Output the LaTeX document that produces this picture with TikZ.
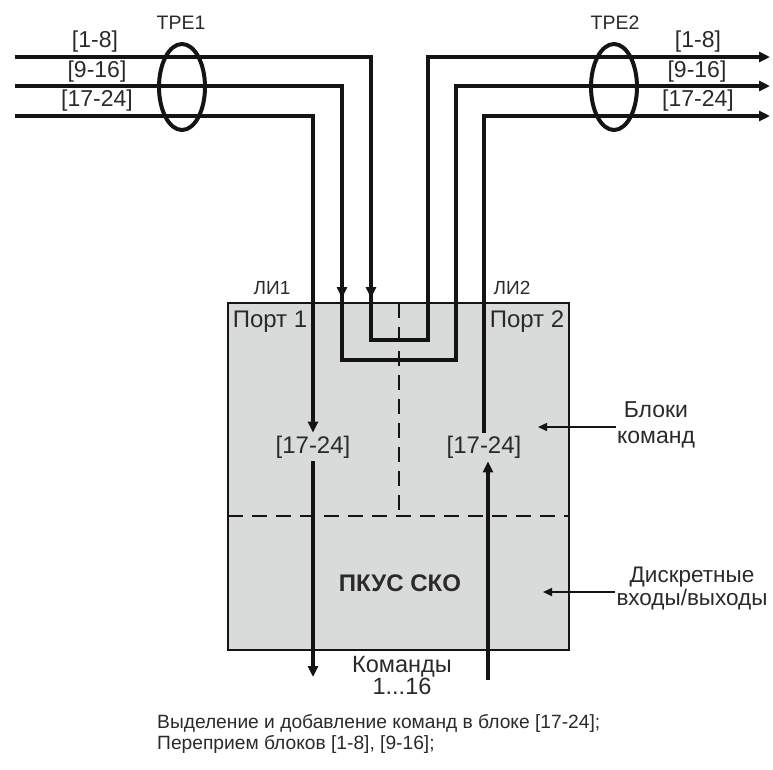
\documentclass[tikz,border=0pt]{standalone}
\usepackage{fontspec}
\setmainfont{Liberation Sans}
\usetikzlibrary{arrows.meta,shapes.geometric}
\definecolor{boxgray}{HTML}{D9DBDB}
\definecolor{ink}{HTML}{141414}
\definecolor{txt}{HTML}{2A2A2A}
\begin{document}
\begin{tikzpicture}[x=1pt,y=-1pt,
  heavy/.style={line width=4.5pt, draw=ink},
  tipend/.style={-{Triangle[length=11pt,width=10pt]}},
  lbl/.style={font=\fontsize{23}{25}\selectfont, text=txt, inner sep=1pt},
  smalllbl/.style={font=\fontsize{19.5}{21}\selectfont, text=txt, inner sep=1pt},
  thinarrow/.style={line width=1.5pt, draw=ink, -{Triangle[length=9pt,width=8pt]}},
  dashline/.style={line width=2.8pt, draw=ink, dash pattern=on 15pt off 9pt},
  trans/.style={ellipse, draw=ink, line width=4pt, minimum width=46pt, minimum height=86pt, inner sep=0pt},
  blocklbl/.style={font=\fontsize{24}{26}\selectfont, text=txt, inner xsep=1pt, inner ysep=3pt}
]
\useasboundingbox (0,0) rectangle (773,769);

% main box
\node[draw=ink, line width=2.5pt, fill=boxgray, minimum width=341pt, minimum height=347pt, inner sep=0pt] (box) at (398.5,476.5) {};

% dashed dividers
\coordinate (dl) at (228,516);
\coordinate (dr) at (569,516);
\coordinate (dt) at (399,303);
\coordinate (db) at (399,516);
\draw[dashline] (dl) -- (dr);
\draw[dashline] (dt) -- (db);

% texts inside box
\node[lbl, font=\fontsize{24}{26}\selectfont] (port1) at (270,322) {Порт 1};
\node[lbl, font=\fontsize{24}{26}\selectfont] (port2) at (527,322) {Порт 2};
\node[smalllbl, font=\fontsize{19}{21}\selectfont] (li1) at (272,288) {ЛИ1};
\node[smalllbl, font=\fontsize{19}{21}\selectfont] (li2) at (512,288) {ЛИ2};
\node[blocklbl] (L17) at (313,447) {[17-24]};
\node[blocklbl] (R17) at (484,447) {[17-24]};
\node[lbl, font=\fontsize{24}{26}\selectfont\bfseries] (pkus) at (400,583) {ПКУС СКО};

% coordinates of the trunk lines
\coordinate (a1) at (15,57);
\coordinate (a1c) at (371,57);
\coordinate (a1m) at (371,298);
\coordinate (a1b) at (371,340);
\coordinate (b1b) at (428,340);
\coordinate (b1c) at (428,57);
\coordinate (b1e) at (770,57);

\coordinate (a2) at (15,86);
\coordinate (a2c) at (342,86);
\coordinate (a2m) at (342,298);
\coordinate (a2b) at (342,360);
\coordinate (b2b) at (456,360);
\coordinate (b2c) at (456,86);
\coordinate (b2e) at (770,86);

\coordinate (a3) at (15,116);
\coordinate (b3c) at (484,116);
\coordinate (b3e) at (770,116);

\coordinate (outL) at (313,677);
\coordinate (inR) at (488,680);

% [1-8]
\draw[heavy, tipend] (a1) -- (a1c) -- (a1b) -- (b1b) -- (b1c) -- (b1e);
\draw[heavy, tipend] (a1c) -- (a1m);
% [9-16]
\draw[heavy, tipend] (a2) -- (a2c) -- (a2b) -- (b2b) -- (b2c) -- (b2e);
\draw[heavy, tipend] (a2c) -- (a2m);
% [17-24]
\draw[heavy, tipend] (a3) -| (L17.north);
\draw[heavy, tipend] (R17.north) |- (b3e);
\draw[heavy, tipend] (L17.south) -- (outL);
\draw[heavy, tipend] (inR) -- (inR |- R17.south);

% transformers
\node[trans] (tpe1) at (182,87) {};
\node[trans] (tpe2) at (614,87) {};
\node[smalllbl] (tpe1l) at (181,23) {TPE1};
\node[smalllbl] (tpe2l) at (615,23) {TPE2};

% top labels
\node[lbl] (l18) at (95,42) {[1-8]};
\node[lbl] (l916) at (97,72) {[9-16]};
\node[lbl] (l1724) at (97,101) {[17-24]};
\node[lbl] (r18) at (698,42) {[1-8]};
\node[lbl] (r916) at (697,72) {[9-16]};
\node[lbl] (r1724) at (698,101) {[17-24]};

% side annotations
\node[lbl, align=center, font=\fontsize{23}{26}\selectfont] (blk) at (656,425) {Блоки\\команд};
\coordinate (blktip) at (538,427);
\draw[thinarrow] (blk.west |- blktip) -- (blktip);
\node[lbl, align=center, font=\fontsize{22.5}{23}\selectfont] (dio) at (692,588) {Дискретные\\входы/выходы};
\coordinate (diotip) at (543,592);
\draw[thinarrow] (dio.west |- diotip) -- (diotip);

% bottom labels
\node[lbl, align=center, font=\fontsize{23.5}{22}\selectfont] (cmd) at (402,676) {Команды\\1...16};
\node[lbl, align=left, anchor=west, font=\fontsize{19.2}{21}\selectfont] (note) at (156,734) {Выделение и добавление команд в блоке [17-24];\\Переприем блоков [1-8], [9-16];};
\end{tikzpicture}
\end{document}
